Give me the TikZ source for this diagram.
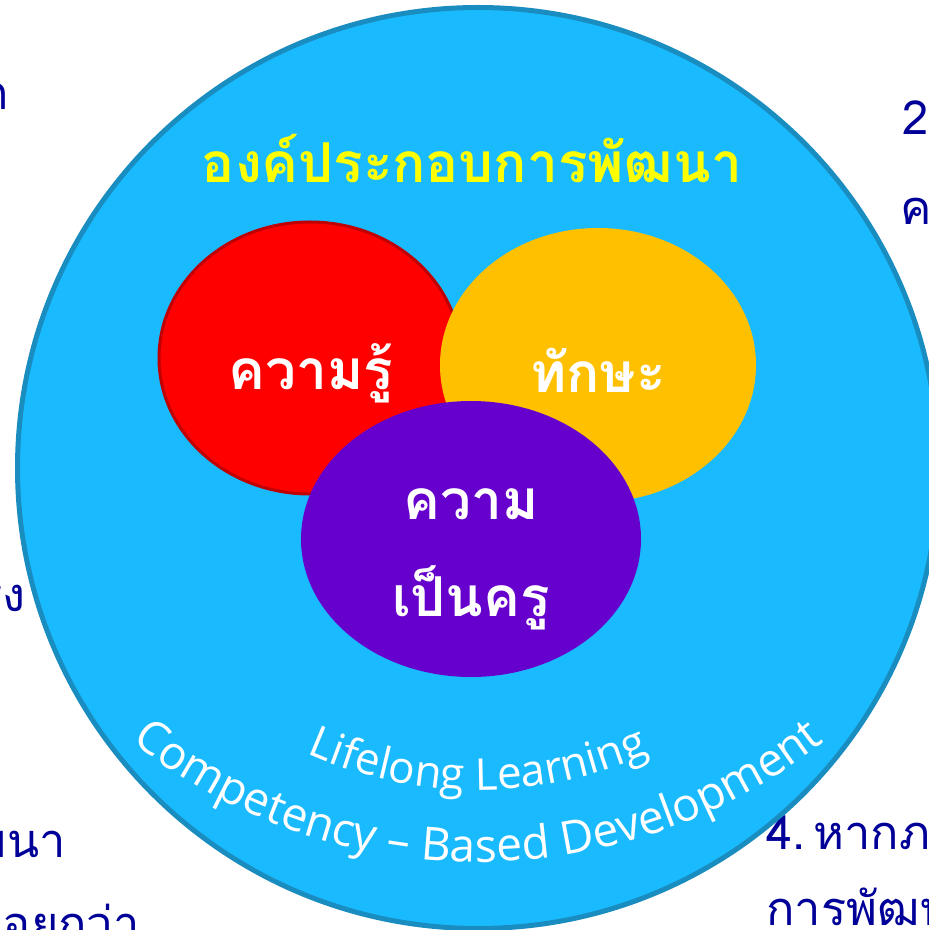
\documentclass[tikz,border=0pt]{standalone}
\usepackage{fontspec}
\usetikzlibrary{decorations.text,shapes.geometric}
\newfontfamily\thai[Script=Thai]{Loma}
\newfontfamily\eng{Open Sans}
\definecolor{sky}{HTML}{1ABAFF}
\definecolor{skyline}{HTML}{1A8DC0}
\definecolor{redfill}{HTML}{FF0000}
\definecolor{redline}{HTML}{C00000}
\definecolor{gold}{HTML}{FFC000}
\definecolor{violet}{HTML}{6600CC}
\definecolor{navy}{HTML}{000099}
\definecolor{titleyellow}{HTML}{FFFF00}
\begin{document}
\begin{tikzpicture}[x=1pt,y=1pt,
  outside/.style={text=navy, font=\thai\fontsize{47}{60}\selectfont, inner sep=0pt},
  blob/.style={ellipse, inner sep=0pt},
  blobtext/.style={text=white, align=center, inner sep=0pt,
     font=\thai\bfseries\fontsize{55}{97}\selectfont},
  ]
\useasboundingbox (0,0) rectangle (929,930);
\clip (0,0) rectangle (929,930);
\fill[white] (0,0) rectangle (929,930);
% fragments of surrounding text
\node[outside, anchor=base east] (t1) at (9,820) {ก};
\node[outside, anchor=base west] (t2) at (902,795) {2\hspace{4pt}.};
\node[outside, anchor=base west] (t3) at (900,705) {ความ};
\node[outside, anchor=base east] (t4) at (26,318) {ตรง};
\node[outside, anchor=base east] (t5) at (66,72) {พัฒนา};
\node[outside, anchor=base east] (t6) at (140,-10) {น้อยกว่า};
\node[outside, anchor=base west] (t7) at (766,80) {4.\hspace{8pt}หากภาคี};
\node[outside, anchor=base west] (t8) at (766,5) {การพัฒนา};
% big circle
\node[circle, minimum size=921, fill=sky, draw=skyline, line width=5, inner sep=0pt] (outer) at (478,462) {};
\node[text=titleyellow, font=\thai\bfseries\fontsize{55}{60}\selectfont, anchor=base] (title) at (472,747) {องค์ประกอบการพัฒนา};
% three ellipses
\node[blob, minimum width=302, minimum height=272, fill=redfill, draw=redline, line width=3] (know) at (310,572) {};
\node[blob, minimum width=316, minimum height=274, fill=gold] (skill) at (598,565) {};
\node[blob, minimum width=340, minimum height=276, fill=violet] (teacher) at (471,391) {};
\node[blobtext, anchor=base] (knowtext) at (311,540) {ความรู้};
\node[blobtext, anchor=base] (skilltext) at (598,537) {ทักษะ};
\node[blobtext, anchor=base] (teachertext) at (471,410) {ความ};
\node[blobtext, anchor=base] (teachertext2) at (471,313) {เป็นครู};
% curved captions
\path[decorate, decoration={text along path, text align=center,
   text={|\eng\fontsize{44}{46}\selectfont\color{white}|Lifelong Learning}}]
   (478,560) ++(215:420) arc[start angle=215, end angle=325, radius=420];
\path[decorate, decoration={text along path, text align=center,
   text={|\eng\fontsize{46}{48}\selectfont\color{white}|Competency – Based Development}}]
   (478,628) ++(205:560) arc[start angle=205, end angle=335, radius=560];
\end{tikzpicture}
\end{document}
